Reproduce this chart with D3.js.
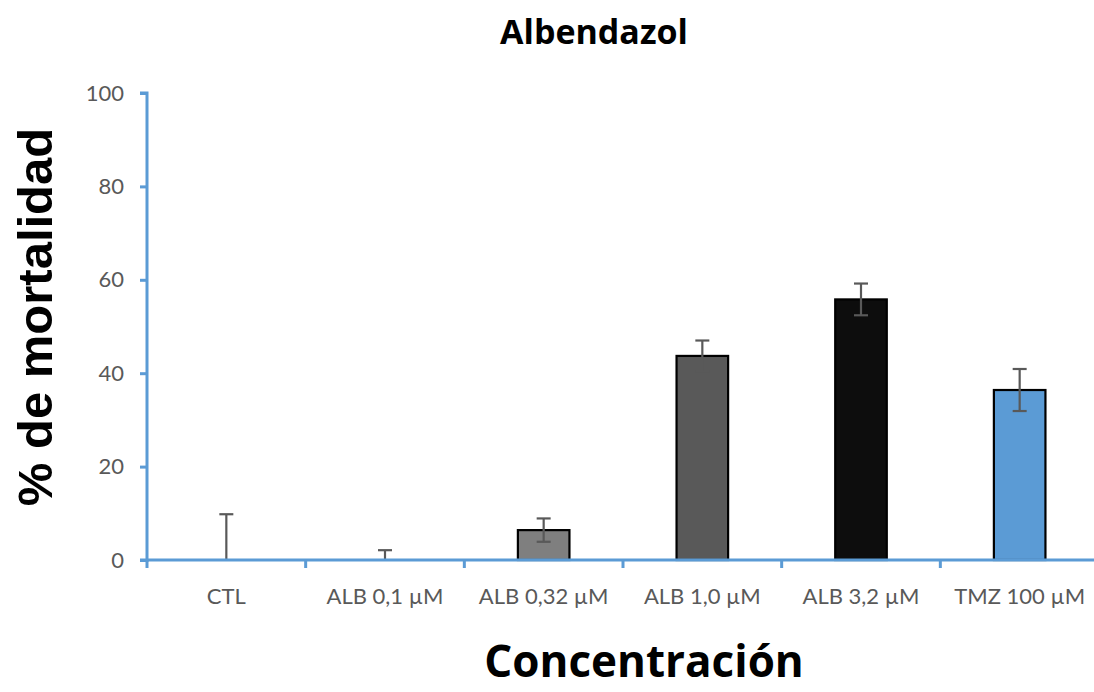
<!DOCTYPE html>
<html><head><meta charset="utf-8">
<script src="https://cdn.jsdelivr.net/npm/d3@7"></script>
<style>body{margin:0;background:#fff}svg{display:block}</style>
</head><body><svg id="c" width="1094" height="692"></svg>
<script>
const categories = ["CTL","ALB 0,1 µM","ALB 0,32 µM","ALB 1,0 µM","ALB 3,2 µM","TMZ 100 µM"];
const values = [0, 0, 6.4, 43.7, 55.8, 36.4];
const errors = [9.8, 2.1, 2.5, 3.3, 3.4, 4.5];
const colors = ["#ffffff","#ffffff","#7f7f7f","#595959","#0d0d0d","#5b9bd5"];
const yTicks = [0,20,40,60,80,100];

const svg = d3.select("#c");
const m = {l:147, t:93, b:560, r:1099};
const x = d3.scaleBand().domain(categories).range([m.l, m.r]).padding(0);
const y = d3.scaleLinear().domain([0,100]).range([m.b, m.t]);
const bw = x.bandwidth()*0.325;
const axisCol = "#5b9bd5";
const lblFont = "Lato, 'Open Sans', sans-serif";

// bars
svg.selectAll("rect.bar").data(categories.map((c,i)=>({c,v:values[i],e:errors[i],col:colors[i]})))
  .enter().filter(d=>d.v>0).append("rect")
  .attr("x", d=>x(d.c)+x.bandwidth()/2-bw/2)
  .attr("y", d=>y(d.v)).attr("width", bw).attr("height", d=>y(0)-y(d.v))
  .attr("fill", d=>d.col).attr("stroke","#000").attr("stroke-width",2.2);

// error bars
const eg = svg.append("g").attr("stroke","#595959").attr("stroke-width",2.2);
categories.forEach((c,i)=>{
  const cx = x(c)+x.bandwidth()/2;
  const lo = Math.max(0, values[i]-errors[i]), hi = values[i]+errors[i];
  eg.append("line").attr("x1",cx).attr("x2",cx).attr("y1",y(lo)).attr("y2",y(hi));
  eg.append("line").attr("x1",cx-7).attr("x2",cx+7).attr("y1",y(hi)).attr("y2",y(hi));
  if (values[i]-errors[i] > 0)
    eg.append("line").attr("x1",cx-7).attr("x2",cx+7).attr("y1",y(lo)).attr("y2",y(lo));
});

// y axis
const ya = svg.append("g").attr("transform",`translate(${m.l},0)`)
  .call(d3.axisLeft(y).tickValues(yTicks).tickSize(7).tickPadding(16));
ya.select(".domain").attr("stroke",axisCol).attr("stroke-width",3).attr("d",`M-7,${m.t}H0V${m.b+2}`);
ya.selectAll(".tick line").attr("stroke",axisCol).attr("stroke-width",3);
ya.selectAll(".tick text").attr("fill","#595959").style("font-family",lblFont).style("font-size","22px");

// x axis
const xa = svg.append("g").attr("transform",`translate(0,${m.b})`)
  .call(d3.axisBottom(x).tickSize(0).tickPadding(28));
xa.select(".domain").attr("stroke",axisCol).attr("stroke-width",3).attr("d",`M${m.l-7},0H${m.r}`);
xa.selectAll(".tick text").attr("fill","#595959").style("font-family",lblFont).style("font-size","22px");
const bounds = categories.map(c=>x(c)).concat([m.r]);
svg.append("g").selectAll("line").data(bounds).enter().append("line")
  .attr("x1",d=>d).attr("x2",d=>d).attr("y1",m.b).attr("y2",m.b+8)
  .attr("stroke",axisCol).attr("stroke-width",3);

// titles
svg.append("text").attr("x",594).attr("y",44).attr("text-anchor","middle")
  .style("font-family","'Open Sans', Lato, sans-serif").style("font-weight","bold").style("font-size","34px")
  .text("Albendazol");
svg.append("text").attr("transform","translate(52,317) rotate(-90)").attr("text-anchor","middle")
  .style("font-family","'Liberation Sans', Arial, sans-serif").style("font-weight","bold").style("font-size","49px")
  .text("% de mortalidad");
svg.append("text").attr("x",644).attr("y",677).attr("text-anchor","middle")
  .style("font-family","'Open Sans', Lato, sans-serif").style("font-weight","bold").style("font-size","44px")
  .text("Concentración");
</script></body></html>
